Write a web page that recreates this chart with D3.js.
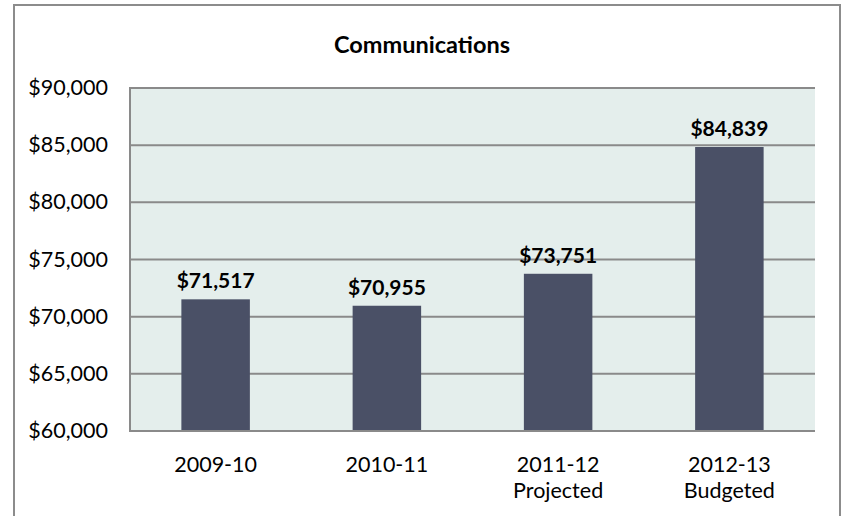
<!DOCTYPE html>
<html><head><meta charset="utf-8">
<script src="https://cdn.jsdelivr.net/npm/d3@7"></script>
<style>body{margin:0;background:#fff}svg{display:block}</style>
</head><body>
<svg id="c" width="841" height="516"></svg>
<script>
const categories = [["2009-10"], ["2010-11"], ["2011-12", "Projected"], ["2012-13", "Budgeted"]];
const values = [71517, 70955, 73751, 84839];
const yTicks = [60000, 65000, 70000, 75000, 80000, 85000, 90000];
const title = "Communications";

const svg = d3.select("#c");
const font = "Lato, 'Open Sans', sans-serif";
const m = {left: 130, right: 815, top: 88, bottom: 431};

// outer frame
svg.append("path").attr("d", "M14,516 L14,5 L840,5 L840,516")
  .attr("fill", "none").attr("stroke", "#8c8c8c").attr("stroke-width", 2);

svg.append("text").attr("x", 422).attr("y", 53).attr("text-anchor", "middle")
  .attr("font-family", font).attr("font-weight", "bold").attr("font-size", 23.5)
  .attr("fill", "#000").text(title);

const x = d3.scaleBand().domain(d3.range(values.length)).range([m.left, m.right]).paddingInner(0.6).paddingOuter(0.3);
const y = d3.scaleLinear().domain([60000, 90000]).range([m.bottom, m.top]);

svg.append("rect").attr("x", m.left).attr("y", m.top).attr("width", m.right - m.left)
  .attr("height", m.bottom - m.top).attr("fill", "#e4eeec");

svg.append("g").selectAll("line").data(yTicks).join("line")
  .attr("x1", m.left).attr("x2", m.right).attr("y1", d => y(d)).attr("y2", d => y(d))
  .attr("stroke", "#8a8a8a").attr("stroke-width", 2);

svg.append("line").attr("x1", m.left).attr("x2", m.left).attr("y1", m.top - 1).attr("y2", m.bottom + 1)
  .attr("stroke", "#8a8a8a").attr("stroke-width", 2);

svg.append("g").selectAll("rect").data(values).join("rect")
  .attr("x", (d, i) => x(i)).attr("width", x.bandwidth())
  .attr("y", d => y(d)).attr("height", d => y(60000) - y(d)).attr("fill", "#4a5066");

svg.append("line").attr("x1", m.left - 1).attr("x2", m.right).attr("y1", m.bottom).attr("y2", m.bottom)
  .attr("stroke", "#8a8a8a").attr("stroke-width", 2);

const fmt = d3.format("$,");
svg.append("g").selectAll("text").data(values).join("text")
  .attr("x", (d, i) => x(i) + x.bandwidth() / 2).attr("y", d => y(d) - 11)
  .attr("text-anchor", "middle").attr("font-family", font).attr("font-weight", "bold")
  .attr("font-size", 21).attr("fill", "#000").text(d => fmt(d));

svg.append("g").selectAll("text").data(yTicks).join("text")
  .attr("x", 108).attr("y", d => y(d) + 7).attr("text-anchor", "end")
  .attr("font-family", font).attr("font-size", 21.5).attr("fill", "#000").text(d => fmt(d));

const xl = svg.append("g").selectAll("text").data(categories).join("text")
  .attr("x", (d, i) => x(i) + x.bandwidth() / 2).attr("y", 472).attr("text-anchor", "middle")
  .attr("font-family", font).attr("font-size", 21.5).attr("fill", "#000");
xl.selectAll("tspan").data(d => d).join("tspan")
  .attr("x", function() { return this.parentNode.getAttribute("x"); })
  .attr("dy", (d, i) => i === 0 ? 0 : 26).text(d => d);
</script>
</body></html>
